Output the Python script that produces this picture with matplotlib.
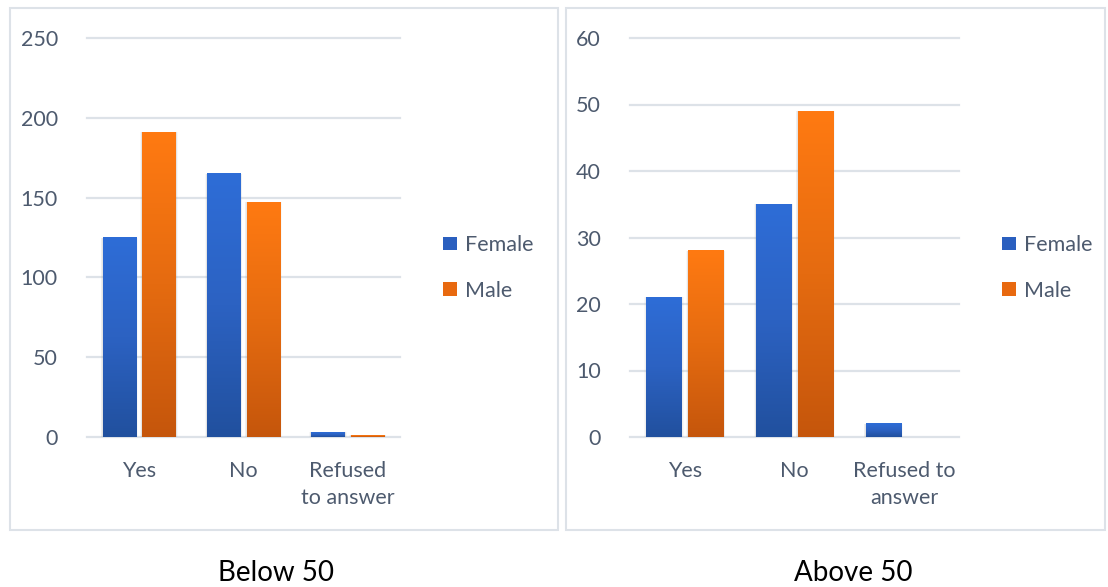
import numpy as np
import matplotlib.pyplot as plt
from matplotlib.patches import Patch, Rectangle
from matplotlib.colors import LinearSegmentedColormap

plt.rcParams['font.family'] = ['Lato', 'DejaVu Sans']

# survey answers by age group
below_cats = ['Yes', 'No', 'Refused\nto answer']
above_cats = ['Yes', 'No', 'Refused to\nanswer']
below_female = [125, 165, 3]
below_male = [191, 147, 1]
above_female = [21, 35, 2]
above_male = [28, 49, 0]

below_ticks = [0, 50, 100, 150, 200, 250]
above_ticks = [0, 10, 20, 30, 40, 50, 60]

text_col = '#4d5a6e'
grid_col = '#dde2e8'
blue_cmap = LinearSegmentedColormap.from_list('blue', ['#21509e', '#2c62c2', '#2e6dd7'])
orange_cmap = LinearSegmentedColormap.from_list('orange', ['#c5560c', '#e56b10', '#ff7a12'])

fig = plt.figure(figsize=(11.08, 5.87), dpi=100)
W, H = 1108, 587


def px_axes(x0, x1, ytop, ybot):
    return fig.add_axes([x0 / W, 1 - ybot / H, (x1 - x0) / W, (ybot - ytop) / H])


def gradient_bars(ax, xs, vals, cmap):
    bars = ax.bar(xs, vals, width=0.32, color='none', zorder=3)
    grad = np.linspace(0, 1, 256).reshape(-1, 1)
    for b in bars:
        x, y = b.get_x(), b.get_y()
        w, h = b.get_width(), b.get_height()
        if h <= 0:
            continue
        # soft shadow behind the bar
        for k, a in zip([0.05, 0.035, 0.02], [0.05, 0.07, 0.09]):
            ax.add_patch(Rectangle((x - k * 0.4, y - k * 0.5), w + k * 0.8, h + k * 0.3,
                                   color='#808080', alpha=a, lw=0, zorder=2))
        ax.imshow(grad, cmap=cmap, origin='lower', aspect='auto',
                  extent=[x, x + w, y, y + h], zorder=3)


def draw_panel(ax, cats, female, male, ticks):
    x = np.arange(len(cats))
    gradient_bars(ax, x - 0.19, female, blue_cmap)
    gradient_bars(ax, x + 0.19, male, orange_cmap)
    ax.set_xlim(-0.5, len(cats) - 0.5)
    ax.set_ylim(0, ticks[-1])
    ax.set_yticks(ticks)
    ax.set_xticks(x)
    ax.set_xticklabels(cats)
    for t in ticks:
        ax.axhline(t, color=grid_col, lw=1.6, zorder=1, clip_on=False)
    for s in ax.spines.values():
        s.set_visible(False)
    ax.tick_params(length=0, labelsize=15.5, colors=text_col)
    ax.tick_params(axis='y', pad=21)
    ax.tick_params(axis='x', pad=17)
    for lbl in ax.get_xticklabels():
        lbl.set_linespacing(1.45)


ax1 = px_axes(87, 400, 38, 437)
draw_panel(ax1, below_cats, below_female, below_male, below_ticks)
ax2 = px_axes(630, 959, 38, 437)
draw_panel(ax2, above_cats, above_female, above_male, above_ticks)

# chart frames
for x0, x1 in [(10, 558), (566, 1105)]:
    fig.patches.append(Rectangle((x0 / W, 1 - 530 / H), (x1 - x0) / W, 522 / H,
                                 transform=fig.transFigure, fill=False,
                                 edgecolor=grid_col, lw=1.5))

handles = [Patch(facecolor='#2a5fbf', label='Female'),
           Patch(facecolor='#e8690f', label='Male')]
for lx in [424 / W, 983 / W]:
    fig.legend(handles=handles, loc='center left', bbox_to_anchor=(lx, 1 - 268 / H),
               frameon=False, fontsize=15.5, handlelength=0.62, handleheight=0.62,
               handletextpad=0.4, labelspacing=1.2, labelcolor=text_col)

fig.text(276 / W, 1 - 573 / H, 'Below 50', ha='center', va='center', fontsize=20, color='black')
fig.text(853 / W, 1 - 573 / H, 'Above 50', ha='center', va='center', fontsize=20, color='black')

fig.savefig('out.png', dpi=100)
